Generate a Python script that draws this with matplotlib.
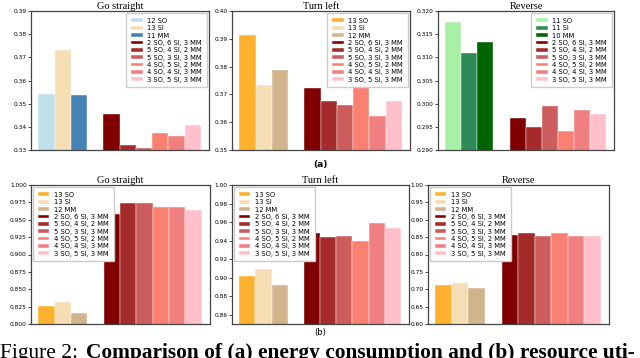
import matplotlib.pyplot as plt

W, H = 640, 358

# energy consumption (a)
tasks = ['Go straight', 'Turn left', 'Reverse']
mixed_labels = ['2 SO, 6 SI, 3 MM', '5 SO, 4 SI, 2 MM', '5 SO, 3 SI, 3 MM',
                '4 SO, 5 SI, 2 MM', '4 SO, 4 SI, 3 MM', '3 SO, 5 SI, 3 MM']
mixed_colors = ['#800000', '#a52a2a', '#cd5c5c', '#fa8072', '#f08080', '#ffc0cb']

a_single_labels = [['12 SO', '13 SI', '11 MM'],
                   ['13 SO', '13 SI', '12 MM'],
                   ['11 SO', '11 SI', '10 MM']]
a_single_colors = [['#bfe0ea', '#f5deb3', '#4682b4'],
                   ['#fdb12f', '#f5deb3', '#d2b48c'],
                   ['#a8f0a5', '#2e8b57', '#006400']]
a_single = [[0.3542, 0.3731, 0.3537],
            [0.3913, 0.3733, 0.3788],
            [0.3177, 0.3109, 0.3133]]
a_mixed = [[0.3457, 0.3323, 0.3310, 0.3372, 0.3359, 0.3410],
           [0.3722, 0.3678, 0.3663, 0.3745, 0.3624, 0.3675],
           [0.2968, 0.2950, 0.2996, 0.2941, 0.2987, 0.2977]]
a_ylim = [(0.33, 0.39), (0.35, 0.40), (0.29, 0.32)]
a_ticks = [[0.33, 0.34, 0.35, 0.36, 0.37, 0.38, 0.39],
           [0.35, 0.36, 0.37, 0.38, 0.39, 0.40],
           [0.290, 0.295, 0.300, 0.305, 0.310, 0.315, 0.320]]
a_fmt = ['%.2f', '%.2f', '%.3f']

# resource utilisation (b)
b_single_labels = ['13 SO', '13 SI', '12 MM']
b_single_colors = ['#fdb12f', '#f5deb3', '#d2b48c']
b_single = [[0.8254, 0.8317, 0.8158],
            [0.9017, 0.9093, 0.8917],
            [0.7113, 0.7170, 0.7036]]
b_mixed = [[0.9588, 0.9737, 0.9742, 0.9680, 0.9690, 0.9636],
           [0.9478, 0.9442, 0.9453, 0.9399, 0.9586, 0.9532],
           [0.8553, 0.8610, 0.8534, 0.8620, 0.8543, 0.8543]]
b_ylim = [(0.80, 1.00), (0.85, 1.00), (0.60, 1.00)]
b_ticks = [[0.800, 0.825, 0.850, 0.875, 0.900, 0.925, 0.950, 0.975, 1.000],
           [0.86, 0.88, 0.90, 0.92, 0.94, 0.96, 0.98, 1.00],
           [0.60, 0.65, 0.70, 0.75, 0.80, 0.85, 0.90, 0.95, 1.00]]
b_fmt = ['%.3f', '%.2f', '%.2f']

# axes boxes in pixels: left, right, top, bottom
top_boxes = [(31, 209, 11, 150), (232, 410, 11, 150), (438, 614, 11, 150)]
bot_boxes = [(31, 210, 185, 324), (232, 409, 185, 324), (428, 609, 185, 324)]


def add_ax(fig, box):
    l, r, t, b = box
    return fig.add_axes([l / W, 1 - b / H, (r - l) / W, (b - t) / H])


def draw(ax, title, single, s_labels, s_colors, mixed, ylim, ticks, fmt, loc):
    for i in range(3):
        ax.bar(i, single[i], width=1, color=s_colors[i], label=s_labels[i],
               edgecolor='white', linewidth=0.3)
    for j in range(6):
        ax.bar(4 + j, mixed[j], width=1, color=mixed_colors[j], label=mixed_labels[j],
               edgecolor='white', linewidth=0.3)
    ax.set_xlim(-0.95, 10.0)
    ax.set_ylim(*ylim)
    ax.set_yticks(ticks)
    ax.set_yticklabels([fmt % t for t in ticks])
    ax.set_xticks([])
    ax.tick_params(axis='y', labelsize=4.2, length=2, width=0.5, pad=1)
    for s in ax.spines.values():
        s.set_linewidth(0.9)
        s.set_color('#444444')
    ax.set_title(title, family='Liberation Serif', fontsize=7.5, pad=1.5)
    ax.legend(loc=loc, fontsize=4.9, labelspacing=0.2, handlelength=1.7,
              handleheight=0.5, borderpad=0.7, handletextpad=0.7,
              framealpha=1, edgecolor='#cccccc', fancybox=False,
              borderaxespad=0.3)


fig = plt.figure(figsize=(W / 100, H / 100), dpi=100)

for k in range(3):
    ax = add_ax(fig, top_boxes[k])
    draw(ax, tasks[k], a_single[k], a_single_labels[k], a_single_colors[k],
         a_mixed[k], a_ylim[k], a_ticks[k], a_fmt[k], 'upper right')

for k in range(3):
    ax = add_ax(fig, bot_boxes[k])
    draw(ax, tasks[k], b_single[k], b_single_labels, b_single_colors,
         b_mixed[k], b_ylim[k], b_ticks[k], b_fmt[k], 'upper left')

fig.text(320 / W, 1 - 164 / H, '(a)', ha='center', va='center', fontsize=6.5,
         fontweight='bold')
fig.text(320 / W, 1 - 332 / H, '(b)', ha='center', va='center', fontsize=6)

fig.text(0.0, 1 - 358 / H, 'Figure 2:', ha='left', va='baseline',
         family='Liberation Serif', fontsize=15.4)
fig.text(86 / W, 1 - 358 / H,
         'Comparison of (a) energy consumption and (b) resource uti-',
         ha='left', va='baseline', family='Liberation Serif', fontsize=15.4,
         fontweight='bold')

fig.savefig('out.png', dpi=100)
